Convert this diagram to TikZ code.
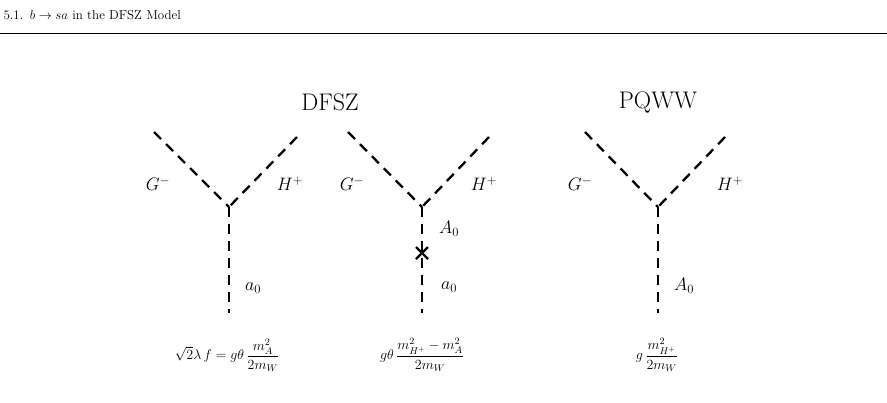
\RequirePackage{fix-cm}
\documentclass[tikz,border=0pt]{standalone}
\usepackage{amsmath}
\usetikzlibrary{calc}
\begin{document}
\begin{tikzpicture}[x=1pt,y=-1pt,
 prop/.style={line width=2.3pt,dash pattern=on 10pt off 7pt},
 lab/.style={font=\fontsize{18}{20}\selectfont},
 ttl/.style={font=\fontsize{24}{27}\selectfont},
 eq/.style={font=\fontsize{14}{16}\selectfont}]
\useasboundingbox (0,0) rectangle (887,402);
\node[anchor=west,font=\fontsize{13}{15}\selectfont] (hdr) at (0,15) {5.1.\enspace$b\to sa$ in the DFSZ Model};
\draw[line width=0.6pt] (0,33) -- (887,33);
\node[ttl] (t1) at (330,102) {DFSZ};
\node[ttl] (t2) at (658,102) {PQWW};
% diagram 1
\coordinate (v1) at (229,207); \coordinate (l1) at (154,132); \coordinate (r1) at (297,137); \coordinate (b1) at (229,313);
\draw[prop] (l1) -- (v1); \draw[prop] (r1) -- (v1); \draw[prop] (v1) -- (b1);
\node[lab] (g1) at (158,184) {$G^-$}; \node[lab] (h1) at (290,184) {$H^+$}; \node[lab] (a1) at (253,288) {$a_0$};
\node[eq] (e1) at (227,355) {$\sqrt{2}\lambda\, f = g\theta\,\dfrac{m_A^2}{2m_W}$};
% diagram 2
\coordinate (v2) at (422,207); \coordinate (l2) at (348,132); \coordinate (r2) at (489,137); \coordinate (b2) at (422,313);
\coordinate (x2) at (422,253);
\draw[prop] (l2) -- (v2); \draw[prop] (r2) -- (v2); \draw[prop] (v2) -- (b2);
\draw[line width=2.3pt] ($(x2)+(-6,-6)$) -- ($(x2)+(6,6)$) ($(x2)+(-6,6)$) -- ($(x2)+(6,-6)$);
\node[lab] (g2) at (352,184) {$G^-$}; \node[lab] (h2) at (484,184) {$H^+$};
\node[lab] (A2) at (449,229) {$A_0$}; \node[lab] (a2) at (449,287) {$a_0$};
\node[eq] (e2) at (422,355) {$g\theta\,\dfrac{m_{H^+}^2-m_A^2}{2m_W}$};
% diagram 3
\coordinate (v3) at (658,207); \coordinate (l3) at (585,132); \coordinate (r3) at (725,137); \coordinate (b3) at (658,313);
\draw[prop] (l3) -- (v3); \draw[prop] (r3) -- (v3); \draw[prop] (v3) -- (b3);
\node[lab] (g3) at (580,184) {$G^-$}; \node[lab] (h3) at (730,184) {$H^+$}; \node[lab] (A3) at (684,286) {$A_0$};
\node[eq] (e3) at (657,355) {$g\,\dfrac{m_{H^+}^2}{2m_W}$};
\end{tikzpicture}
\end{document}
